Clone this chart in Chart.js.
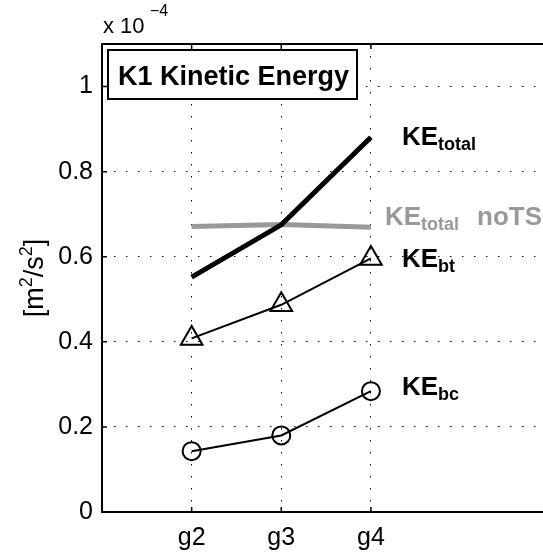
<!DOCTYPE html>
<html>
<head>
<meta charset="utf-8">
<script src="https://cdn.jsdelivr.net/npm/chart.js@4.4.1/dist/chart.umd.min.js"></script>
<style>
  html, body { margin: 0; padding: 0; background: #fff; overflow: hidden; }
  #wrap { width: 543px; height: 553px; }
</style>
</head>
<body>
<div id="wrap"><canvas id="keChart" width="543" height="553"></canvas></div>
<script>
// grid resolutions (x positions 2, 3, 4) and energies in units of 1e-4 m^2/s^2
const grids = ['g2', 'g3', 'g4'];
const gridPos = [2, 3, 4];
const keTotal = [0.552, 0.675, 0.881];
const keTotalNoTS = [0.671, 0.676, 0.669];
const keBt = [0.408, 0.487, 0.596];
const keBc = [0.143, 0.180, 0.284];
const yTicks = [0, 0.2, 0.4, 0.6, 0.8, 1];

const FONT = "'Liberation Sans', Arial, Helvetica, sans-serif";
const GRAY = '#999999';

const pts = vals => vals.map((v, i) => ({ x: gridPos[i], y: v }));

// axes frame with inward ticks, x labels, title box, series labels, exponent and y label
const decorations = {
    id: 'decorations',
    afterDraw(chart) {
        const { ctx, chartArea: a, scales: { x, y } } = chart;
        ctx.save();
        ctx.strokeStyle = '#000';
        ctx.lineWidth = 2;
        ctx.beginPath();
        ctx.moveTo(a.right, a.top);
        ctx.lineTo(a.left, a.top);
        ctx.lineTo(a.left, a.bottom);
        ctx.lineTo(a.right, a.bottom);
        ctx.stroke();

        ctx.lineWidth = 1.5;
        ctx.beginPath();
        gridPos.forEach(v => {
            const px = x.getPixelForValue(v);
            ctx.moveTo(px, a.bottom); ctx.lineTo(px, a.bottom - 5);
            ctx.moveTo(px, a.top); ctx.lineTo(px, a.top + 5);
        });
        yTicks.forEach(v => {
            const py = y.getPixelForValue(v);
            ctx.moveTo(a.left, py); ctx.lineTo(a.left + 5, py);
        });
        ctx.stroke();

        // category labels under the x axis
        ctx.fillStyle = '#000';
        ctx.font = '25px ' + FONT;
        ctx.textAlign = 'center';
        ctx.textBaseline = 'alphabetic';
        gridPos.forEach((v, i) => ctx.fillText(grids[i], x.getPixelForValue(v), a.bottom + 33));
        ctx.textAlign = 'left';

        // title box
        ctx.fillStyle = '#fff';
        ctx.fillRect(108, 50, 249, 49);
        ctx.lineWidth = 2;
        ctx.strokeRect(108, 50, 249, 49);
        ctx.fillStyle = '#000';
        ctx.font = 'bold 27px ' + FONT;
        ctx.fillText('K1 Kinetic Energy', 118, 85);

        // series labels next to the g4 end
        const lx = x.getPixelForValue(4) + 31;
        const label = (px, base, sub, tail, color) => {
            ctx.fillStyle = color;
            ctx.font = 'bold 26px ' + FONT;
            ctx.fillText('KE', px, base);
            let w = ctx.measureText('KE').width;
            ctx.font = 'bold 18px ' + FONT;
            ctx.fillText(sub, px + w, base + 5);
            w += ctx.measureText(sub).width;
            if (tail) {
                ctx.font = 'bold 26px ' + FONT;
                ctx.fillText(tail, px + w + 18, base);
            }
        };
        label(lx, 145, 'total', '', '#000');
        label(lx - 17, 225, 'total', 'noTS', GRAY);
        label(lx, 267, 'bt', '', '#000');
        label(lx, 395, 'bc', '', '#000');

        // exponent above the y axis
        ctx.fillStyle = '#000';
        ctx.font = '22px ' + FONT;
        ctx.fillText('x 10', 103, 33);
        ctx.font = '16px ' + FONT;
        ctx.fillText('\u22124', 150, 16);

        // y axis label with superscripts
        ctx.translate(43, 278);
        ctx.rotate(-Math.PI / 2);
        const parts = [['[m', 27, 0], ['2', 18, -11], ['/s', 27, 0], ['2', 18, -11], [']', 27, 0]];
        let total = 0;
        parts.forEach(p => { ctx.font = p[1] + 'px ' + FONT; total += ctx.measureText(p[0]).width; });
        let cx = -total / 2;
        parts.forEach(p => {
            ctx.font = p[1] + 'px ' + FONT;
            ctx.fillText(p[0], cx, p[2]);
            cx += ctx.measureText(p[0]).width;
        });
        ctx.restore();
    }
};

new Chart(document.getElementById('keChart'), {
    type: 'line',
    data: {
        datasets: [
            {
                label: 'KE total',
                data: pts(keTotal),
                borderColor: '#000',
                borderWidth: 5,
                pointRadius: 0
            },
            {
                label: 'KE total noTS',
                data: pts(keTotalNoTS),
                borderColor: GRAY,
                borderWidth: 5,
                pointRadius: 0
            },
            {
                label: 'KE bt',
                data: pts(keBt),
                borderColor: '#000',
                borderWidth: 2,
                pointStyle: 'triangle',
                pointRadius: 12.5,
                pointBorderWidth: 2,
                pointBorderColor: '#000',
                pointBackgroundColor: 'rgba(0,0,0,0)'
            },
            {
                label: 'KE bc',
                data: pts(keBc),
                borderColor: '#000',
                borderWidth: 2,
                pointStyle: 'circle',
                pointRadius: 9,
                pointBorderWidth: 2,
                pointBorderColor: '#000',
                pointBackgroundColor: 'rgba(0,0,0,0)'
            }
        ]
    },
    options: {
        responsive: false,
        animation: false,
        layout: { autoPadding: false, padding: { top: 44, right: 0, left: 0, bottom: 0 } },
        plugins: { legend: { display: false }, tooltip: { enabled: false } },
        scales: {
            x: {
                type: 'linear',
                min: 1,
                max: 5.92,
                afterFit: s => { s.height = 41; },
                afterBuildTicks: s => { s.ticks = gridPos.map(v => ({ value: v })); },
                grid: { color: '#000', lineWidth: 1, drawTicks: false },
                border: { display: false, dash: [1.5, 10.5] },
                ticks: { display: false }
            },
            y: {
                min: 0,
                max: 1.1,
                afterFit: s => { s.width = 102; },
                afterBuildTicks: s => { s.ticks = yTicks.map(v => ({ value: v })); },
                grid: { color: '#000', lineWidth: 1, drawTicks: false },
                border: { display: false, dash: [1.5, 10.5] },
                ticks: {
                    padding: 9,
                    color: '#000',
                    font: { family: FONT, size: 25 },
                    callback: v => String(+v.toFixed(1))
                }
            }
        }
    },
    plugins: [decorations]
});
</script>
</body>
</html>
